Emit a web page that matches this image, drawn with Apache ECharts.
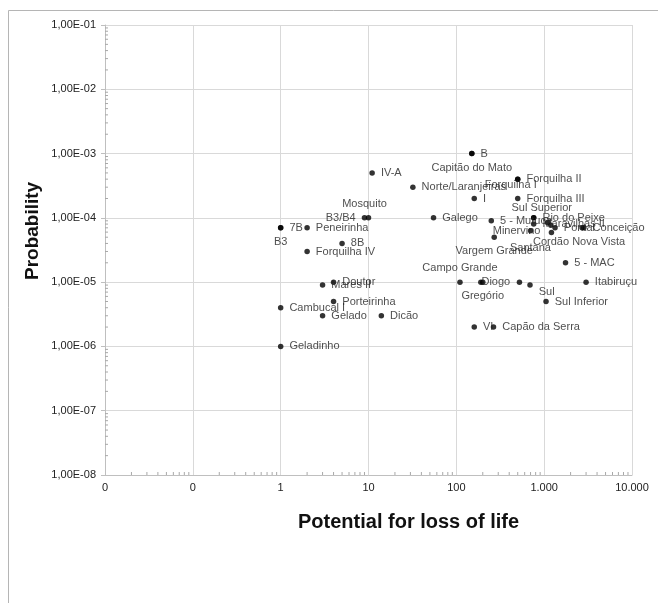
<!DOCTYPE html>
<html>
<head>
<meta charset="utf-8">
<script src="https://cdn.jsdelivr.net/npm/echarts@6/dist/echarts.min.js"></script>
<style>
html,body{margin:0;padding:0;background:#fff;}
#chart{width:658px;height:603px;}
</style>
</head>
<body>
<div id="chart"></div>
<script>
// ---- data ----
const names = ['B','Capitão do Mato','IV-A','Norte/Laranjeiras','Forquilha II','Forquilha I','I','Forquilha III',
  'Sul Superior','Rio do Peixe','Mosquito','B3/B4','Galego','5 - Mutuca','Maravilhas II','Minervino','Vargem Grande',
  'Santana','','','Pontal','Conceição','Cordão Nova Vista','5 - MAC','Campo Grande','Diogo','Gregório','','Sul',
  'Itabiruçu','Sul Inferior','VI','Capão da Serra','Dicão','Gelado','Porteirinha','Cambucal I','Doutor','Mares II',
  'Geladinho','7B','B3','Peneirinha','8B','Forquilha IV'];
const lossOfLife = [150,150,11,32,500,500,160,500,
  760,760,10,9,55,250,760,700,270,
  1210,1090,1190,1330,2830,2700,1750,110,190,200,523,690,
  3000,1050,160,265,14,3,4,1,4,3,
  1,1,1,2,5,2];
const probability = [1e-3,1e-3,5e-4,3e-4,4e-4,4e-4,2e-4,2e-4,
  1e-4,1e-4,1e-4,1e-4,1e-4,9e-5,8e-5,6.3e-5,5e-5,
  5.9e-5,8.5e-5,7.7e-5,7e-5,7e-5,7e-5,2e-5,1e-5,1e-5,1e-5,1e-5,9e-6,
  1e-5,5e-6,2e-6,2e-6,3e-6,3e-6,5e-6,4e-6,1e-5,9e-6,
  1e-6,7e-5,7e-5,7e-5,4e-5,3e-5];
const xTickLabels = ['0','0','1','10','100','1.000','10.000'];      // 10^-2 .. 10^4
const yTickLabels = ['1,00E-08','1,00E-07','1,00E-06','1,00E-05','1,00E-04','1,00E-03','1,00E-02','1,00E-01']; // 10^-8 .. 10^-1
const xMin = 0.01, xMax = 10000, yMin = 1e-8, yMax = 1e-1;

// ---- label placement (style) ----
const labelPlacement = {
  'Capitão do Mato': ['bottom', 0, 0],
  'Forquilha I': ['inside', -7, 6],
  'Sul Superior': ['inside', 8, -10],
  'Mosquito': ['top', -4, 0],
  'B3/B4': ['left', 0, 0],
  'Minervino': ['inside', -14, 0],
  'Vargem Grande': ['bottom', 0, 0],
  'Santana': ['inside', -21, 15],
  'Cordão Nova Vista': ['bottom', -3, 0],
  'Campo Grande': ['top', 0, 0],
  'Diogo': ['inside', 15, 0],
  'Gregório': ['bottom', 0, 0],
  'Sul': ['right', 0, 7],
  'B3': ['bottom', 0, 0]
};

const FONT = '"Liberation Sans", Arial, sans-serif';
const points = names.map((n, i) => {
  const p = labelPlacement[n] || ['right', 0, 0];
  return {
    name: n,
    value: [lossOfLife[i], probability[i]],
    label: { position: p[0], offset: [p[1], p[2]] }
  };
});

const xMinor = [], yMinor = [];
for (let k = Math.log10(xMin); k < Math.log10(xMax); k++) for (let m = 2; m <= 9; m++) xMinor.push([m * Math.pow(10, k), yMin]);
for (let k = Math.log10(yMin); k < Math.log10(yMax); k++) for (let m = 2; m <= 9; m++) yMinor.push([xMin, m * Math.pow(10, k)]);

const chart = echarts.init(document.getElementById('chart'), null, { renderer: 'canvas' });
chart.setOption({
  animation: false,
  backgroundColor: '#fff',
  textStyle: { fontFamily: FONT },
  grid: { left: 105, right: 26, top: 25, bottom: 128 },
  graphic: [
    { type: 'rect', z: -10, silent: true,
      shape: { x: 8.5, y: 10.5, width: 720, height: 720 },
      style: { fill: 'none', stroke: '#b5b5b5', lineWidth: 1 } },
    { type: 'text', left: 298, top: 512,
      style: { text: 'Potential for loss of life', font: 'bold 20px ' + FONT, fill: '#111' } },
    { type: 'text', x: 23, y: 280, rotation: Math.PI / 2,
      style: { text: 'Probability', font: 'bold 19px ' + FONT, fill: '#111' } }
  ],
  xAxis: {
    type: 'log', logBase: 10, min: xMin, max: xMax, interval: 1,
    axisLine: { show: true, lineStyle: { color: '#bfbfbf' } },
    axisTick: { show: false },
    splitLine: { show: true, lineStyle: { color: '#d9d9d9', width: 1 } },
    axisLabel: {
      color: '#222', fontSize: 11, fontFamily: FONT, margin: 7,
      formatter: v => xTickLabels[Math.round(Math.log10(v)) + 2]
    }
  },
  yAxis: {
    type: 'log', logBase: 10, min: yMin, max: yMax, interval: 1,
    axisLine: { show: true, lineStyle: { color: '#bfbfbf' } },
    axisTick: { show: true, length: 4, lineStyle: { color: '#bfbfbf' } },
    splitLine: { show: true, lineStyle: { color: '#d9d9d9', width: 1 } },
    axisLabel: {
      color: '#222', fontSize: 11, fontFamily: FONT, margin: 9,
      formatter: v => yTickLabels[Math.round(Math.log10(v)) + 8]
    }
  },
  series: [
    {
      type: 'custom', silent: true, data: xMinor, z: 1,
      renderItem: (params, api) => {
        const c = api.coord([api.value(0), api.value(1)]);
        return { type: 'line', shape: { x1: c[0], y1: c[1], x2: c[0], y2: c[1] - 3 },
          style: { stroke: '#a8a8a8', lineWidth: 1 } };
      }
    },
    {
      type: 'custom', silent: true, data: yMinor, z: 1,
      renderItem: (params, api) => {
        const c = api.coord([api.value(0), api.value(1)]);
        return { type: 'line', shape: { x1: c[0], y1: c[1], x2: c[0] + 3, y2: c[1] },
          style: { stroke: '#a8a8a8', lineWidth: 1 } };
      }
    },
    {
      type: 'scatter', symbol: 'circle', symbolSize: 5.5, z: 3,
      itemStyle: { color: '#000' },
      label: {
        show: true, formatter: '{b}', distance: 6,
        color: '#222', fontSize: 11, fontFamily: FONT
      },
      data: points
    }
  ]
});
</script>
</body>
</html>
